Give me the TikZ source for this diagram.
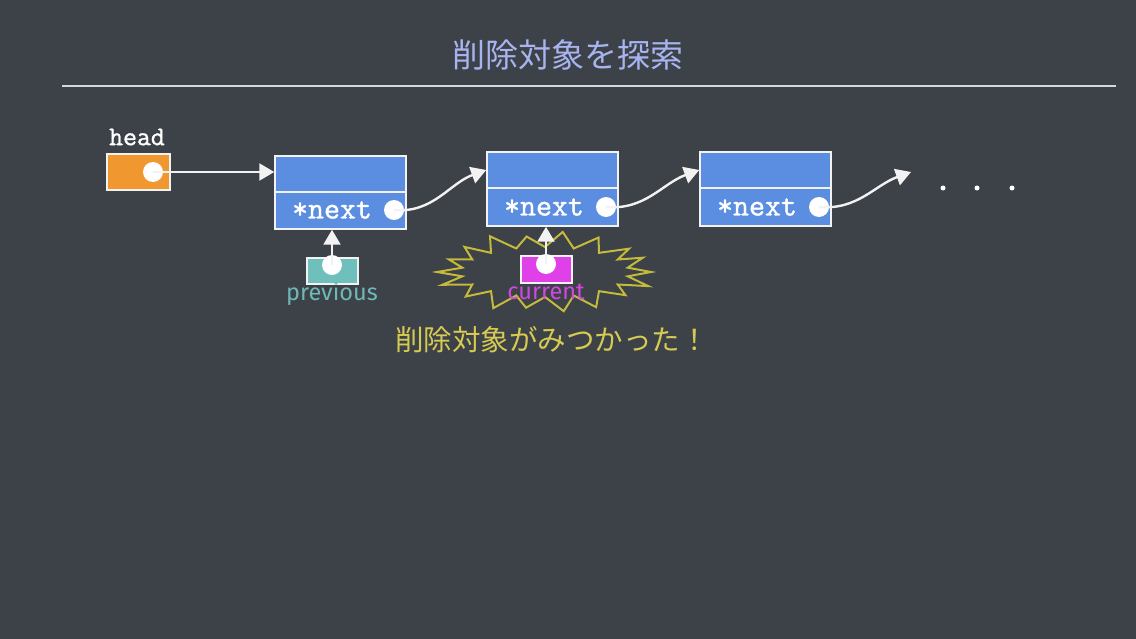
\documentclass[tikz,border=0pt]{standalone}
\usepackage{fontspec}
\setmainfont{Liberation Serif}
\newfontfamily\cjk{Noto Sans CJK JP}
\newfontfamily\monof[FakeBold=1.2]{Latin Modern Mono}
\newfontfamily\labf{Fira Sans}
\usetikzlibrary{arrows.meta}
\definecolor{bg}{HTML}{3D4148}
\definecolor{cellblue}{HTML}{5B8EE0}
\definecolor{headorange}{HTML}{F0972F}
\definecolor{prevteal}{HTML}{6FC0BC}
\definecolor{prevtext}{HTML}{6FB8B8}
\definecolor{curmag}{HTML}{E040E8}
\definecolor{curtext}{HTML}{D048E0}
\definecolor{titlecol}{HTML}{A8B4F0}
\definecolor{foundcol}{HTML}{D6CB52}
\definecolor{burstcol}{HTML}{C4BA3C}
\definecolor{chalk}{HTML}{F2F2F2}
\tikzset{
  cell/.style={draw=chalk, line width=1.5pt, fill=cellblue, minimum width=131pt, inner sep=0pt},
  ptrbox/.style={draw=chalk, line width=1.2pt, inner sep=0pt},
  dot/.style={circle, fill=white, minimum size=20pt, inner sep=0pt},
  smalldot/.style={circle, fill=white, minimum size=5pt, inner sep=0pt},
  chalkarrow/.style={draw=chalk, line width=2.4pt, -{Triangle[width=17pt,length=15pt]}},
  monotext/.style={text=white, font=\monof\fontsize{31}{33}\selectfont, inner sep=0pt},
  labtext/.style={font=\labf\fontsize{23.5}{25}\selectfont, inner sep=0pt},
}
\begin{document}
\begin{tikzpicture}[x=1pt,y=-1pt]
\useasboundingbox[fill=bg] (0,0) rectangle (1136,639);
% title
\node[text=titlecol, font=\cjk\fontsize{33}{35}\selectfont, inner sep=0pt] (title) at (568,55) {削除対象を探索};
\coordinate (rulel) at (62,86);
\coordinate (ruler) at (1116,86);
\draw[chalk!85!bg, line width=2pt] (rulel) -- (ruler);
% head
\node[text=white, font=\monof\fontsize{27}{29}\selectfont, inner sep=0pt] (headlab) at (137,137) {head};
\node[ptrbox, fill=headorange, minimum width=63pt, minimum height=36pt] (head) at (138.5,172) {};
\node[dot] (c0) at (153,172) {};
% list nodes
\node[cell, minimum height=36pt] (n1t) at (340.5,174) {};
\node[cell, minimum height=37pt] (n1b) at (340.5,210.5) {};
\node[monotext] (t1) at (332,210) {*next};
\node[dot] (c1) at (394,210) {};
\node[cell, minimum height=36pt] (n2t) at (552.5,170) {};
\node[cell, minimum height=38pt] (n2b) at (552.5,207) {};
\node[monotext] (t2) at (544,207) {*next};
\node[dot] (c2) at (606,207) {};
\node[cell, minimum height=36pt] (n3t) at (765.5,170) {};
\node[cell, minimum height=38pt] (n3b) at (765.5,207) {};
\node[monotext] (t3) at (757,207) {*next};
\node[dot] (c3) at (819,207) {};
\coordinate (end3) at (911,172);
% dots
\node[smalldot] (d1) at (943,188) {};
\node[smalldot] (d2) at (977,188) {};
\node[smalldot] (d3) at (1012,188) {};
% arrows along list
\draw[chalkarrow] (c0.center) -- (c0 -| n1t.west);
\draw[chalkarrow] (c1.center) to[out=-5,in=200] (n2t.west);
\draw[chalkarrow] (c2.center) to[out=-5,in=200] (n3t.west);
\draw[chalkarrow] (c3.center) to[out=-5,in=200] (end3);
% starburst
\draw[burstcol, line width=2pt, line join=miter]
  ({545+84*cos(-10)},{272+25*sin(-10)})
  \foreach \i in {0,...,17}{
    -- ({545+(106+4*sin(\i*97))*cos(\i*20)},{272+(39+3*sin(\i*131))*sin(\i*20)})
    -- ({545+84*cos(\i*20+10)},{272+25*sin(\i*20+10)})
  } -- cycle;
% previous
\node[ptrbox, fill=prevteal, minimum width=51pt, minimum height=26pt] (prev) at (332.5,271) {};
\node[dot] (cp) at (332,265) {};
\node[labtext, text=prevtext] (prevlab) at (332,294) {previous};
\draw[chalkarrow] (cp.center) -- (n1b.south -| cp);
% current
\node[ptrbox, fill=curmag, minimum width=51pt, minimum height=27pt] (cur) at (546.5,269.5) {};
\node[dot] (cc) at (546,264) {};
\node[labtext, text=curtext] (curlab) at (546,292) {current};
\draw[chalkarrow] (cc.center) -- (n2b.south -| cc);
% found text
\node[text=foundcol, font=\cjk\fontsize{28.5}{30}\selectfont, inner sep=0pt] (found) at (552,340) {削除対象がみつかった！};
\end{tikzpicture}
\end{document}
